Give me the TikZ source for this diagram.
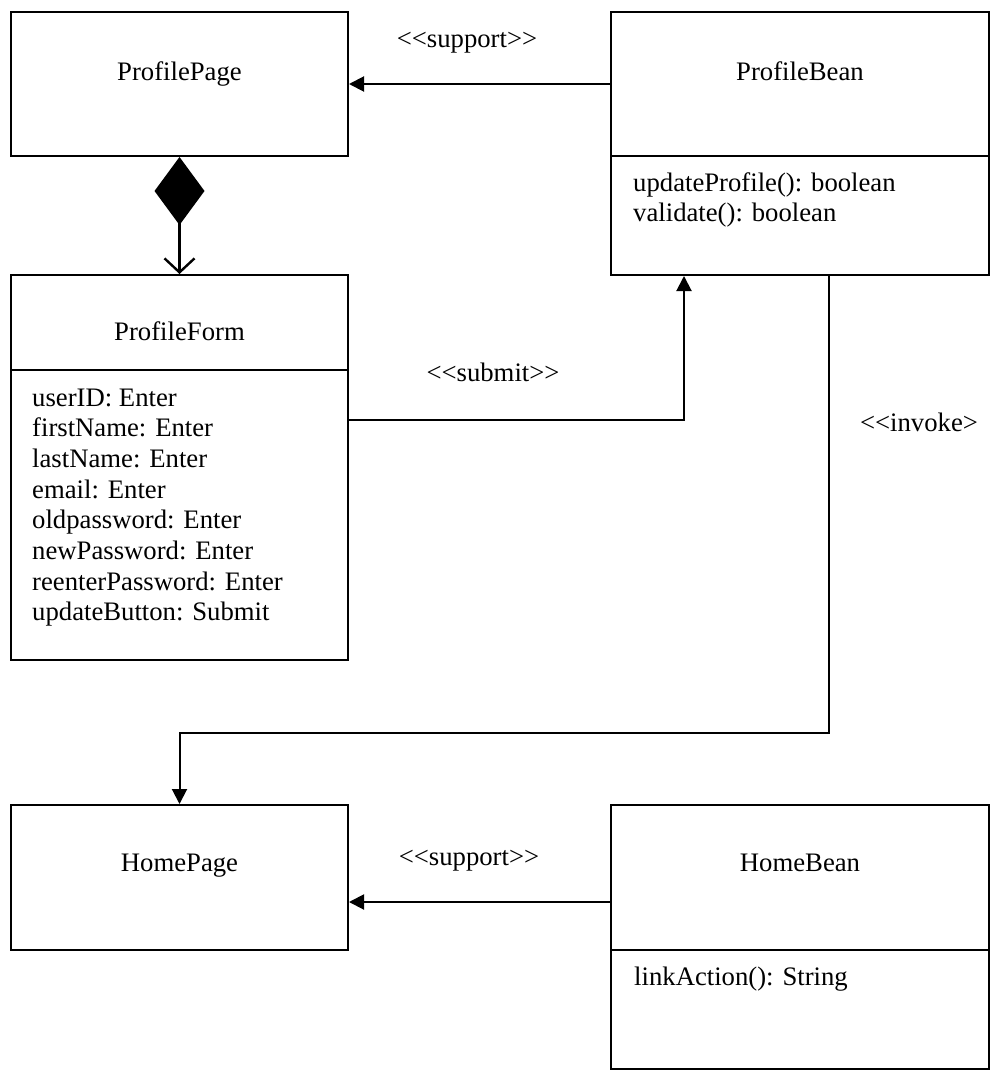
\documentclass[tikz,border=0pt]{standalone}
\usepackage{fontspec}
\setmainfont{Liberation Serif}
\usetikzlibrary{arrows.meta}
\begin{document}
\begin{tikzpicture}[x=1pt,y=-1pt,
  umlbox/.style={draw, line width=2pt, inner sep=0pt, fill=none},
  txt/.style={inner sep=0pt, font=\fontsize{26.7}{30.7}\selectfont},
  title/.style={txt, anchor=base},
  attr/.style={txt, anchor=base west},
  conn/.style={line width=2pt, -{Triangle[length=15pt,width=15pt]}},
  comp/.style={line width=2.2pt, {Diamond[length=68pt,width=50pt]}-{Straight Barb[length=14pt,width=30pt,line width=2.4pt]}}
]
\useasboundingbox (0,0) rectangle (992,1076);
% boxes
\node[umlbox, minimum width=337pt, minimum height=144pt] (ppage) at (179.5,84) {};
\node[umlbox, minimum width=378pt, minimum height=144pt] (pbean) at (800,84) {};
\node[umlbox, minimum width=378pt, minimum height=119pt] (pbeanops) at (800,215.5) {};
\node[umlbox, minimum width=337pt, minimum height=95pt] (pform) at (179.5,322.5) {};
\node[umlbox, minimum width=337pt, minimum height=290pt] (pformattr) at (179.5,515) {};
\node[umlbox, minimum width=337pt, minimum height=145pt] (hpage) at (179.5,877.5) {};
\node[umlbox, minimum width=378pt, minimum height=145pt] (hbean) at (800,877.5) {};
\node[umlbox, minimum width=378pt, minimum height=119pt] (hbeanops) at (800,1009.5) {};
% titles
\node[title] (ppagelbl) at (179.5,80) {ProfilePage};
\node[title] (pbeanlbl) at (800,80) {ProfileBean};
\node[title] (pformlbl) at (179.5,340) {ProfileForm};
\node[title] (hpagelbl) at (179.5,871) {HomePage};
\node[title] (hbeanlbl) at (800,871) {HomeBean};
% members
\node[attr] (pb1) at (633,191) {updateProfile(): boolean};
\node[attr] (pb2) at (633,221.7) {validate(): boolean};
\node[attr] (pf1) at (32,406) {userID: Enter};
\node[attr] (pf2) at (32,436.7) {firstName: Enter};
\node[attr] (pf3) at (32,467.4) {lastName: Enter};
\node[attr] (pf4) at (32,498.1) {email: Enter};
\node[attr] (pf5) at (32,528.8) {oldpassword: Enter};
\node[attr] (pf6) at (32,559.5) {newPassword: Enter};
\node[attr] (pf7) at (32,590.2) {reenterPassword: Enter};
\node[attr] (pf8) at (32,620.9) {updateButton: Submit};
\node[attr] (hb1) at (634,985) {linkAction(): String};
% stereotype labels
\node[title] (sup1) at (467,47) {<\kern0pt<support>\kern0pt>};
\node[title] (submitlbl) at (493,381) {<\kern0pt<submit>\kern0pt>};
\node[title] (invokelbl) at (919,431) {<\kern0pt<invoke>};
\node[title] (sup2) at (469,865) {<\kern0pt<support>\kern0pt>};
% routing coordinates
\coordinate (subrow) at (684,420);
\coordinate (inv) at (829,733);
\coordinate (hsup) at (480,902);
% connectors
\draw[conn] (pbean.west) -- (ppage.east);
\draw[comp] (ppage.south) -- (pform.north);
\draw[conn] (pformattr.east |- subrow) -| (pbeanops.south -| subrow);
\draw[conn] (pbeanops.south -| inv) |- (inv -| hpage.north) -- (hpage.north);
\draw[conn] (hbean.west |- hsup) -- (hpage.east |- hsup);
\end{tikzpicture}
\end{document}
